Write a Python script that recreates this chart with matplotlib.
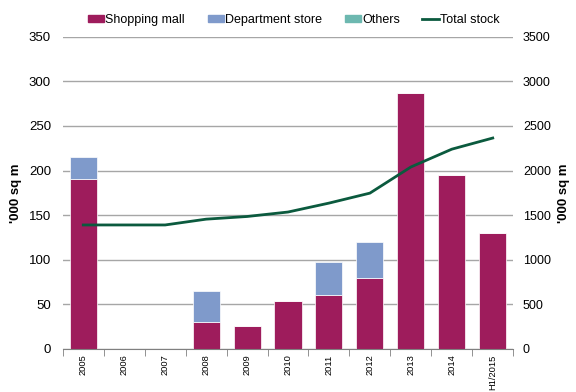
import numpy as np
import matplotlib.pyplot as plt
from matplotlib.lines import Line2D
from matplotlib.patches import Patch

years = ["2005", "2006", "2007", "2008", "2009", "2010", "2011", "2012", "2013", "2014", "H1/2015"]
shopping_mall = [190, 0, 0, 30, 26, 54, 60, 80, 287, 195, 130]
department_store = [25, 0, 0, 35, 0, 0, 38, 40, 0, 0, 0]
others = [0, 0, 0, 0, 0, 0, 0, 0, 0, 0, 0]
total_stock = [1390, 1390, 1390, 1455, 1485, 1535, 1635, 1747, 2040, 2240, 2365]

c_mall = "#9e1c5c"
c_dept = "#7f9acb"
c_other = "#6db8b0"
c_line = "#0b5a3e"

plt.rcParams["font.family"] = ["Liberation Sans", "DejaVu Sans"]

fig = plt.figure(figsize=(5.76, 3.92), dpi=100)
ax = fig.add_axes([0.109, 0.110, 0.782, 0.796])
x = np.arange(len(years))

ax.set_axisbelow(True)
ax.yaxis.grid(True, color="#a6a6a6", linewidth=1)
ax.bar(x, shopping_mall, width=0.66, color=c_mall, edgecolor="white", linewidth=0.5, zorder=2)
ax.bar(x, department_store, width=0.66, bottom=shopping_mall, color=c_dept, edgecolor="white", linewidth=0.5, zorder=2)
bottom2 = np.array(shopping_mall) + np.array(department_store)
ax.bar(x, others, width=0.66, bottom=bottom2, color=c_other, zorder=2)

ax.set_ylim(0, 350)
ax.set_xlim(-0.5, len(years) - 0.5)
ax.set_yticks(range(0, 351, 50))
ax.set_ylabel("'000 sq m", fontweight="bold", fontsize=9.5, labelpad=5)
ax.set_xticks(x)
ax.set_xticklabels(years, rotation=90, fontsize=6.7)
ax.tick_params(axis="x", length=0, pad=4)
ax.set_xticks(np.arange(-0.5, len(years)), minor=True)
ax.tick_params(axis="x", which="minor", length=5, color="#808080")
ax.tick_params(axis="y", length=0, labelsize=9.5, pad=8.5)
for s in ["left", "right", "top"]:
    ax.spines[s].set_visible(False)
ax.spines["bottom"].set_color("#808080")

ax2 = ax.twinx()
ax2.plot(x, total_stock, color=c_line, linewidth=2, zorder=3)
ax2.set_ylim(0, 3500)
ax2.set_yticks(range(0, 3501, 500))
ax2.tick_params(axis="y", length=0, labelsize=9, pad=7)
ax2.set_ylabel("'000 sq m", fontweight="bold", fontsize=9.5, rotation=90, labelpad=5)
for s in ["left", "right", "top", "bottom"]:
    ax2.spines[s].set_visible(False)

handles = [Patch(color=c_mall), Patch(color=c_dept), Patch(color=c_other),
           Line2D([0], [0], color=c_line, linewidth=2)]
labels = ["Shopping mall", "Department store", "Others", "Total stock"]
fig.legend(handles, labels, loc="center", bbox_to_anchor=(0.51, 0.949), ncol=4, frameon=False,
           fontsize=9, handlelength=1.3, handletextpad=0.1, columnspacing=1.8, handleheight=0.5)

fig.savefig("out.png", dpi=100)
